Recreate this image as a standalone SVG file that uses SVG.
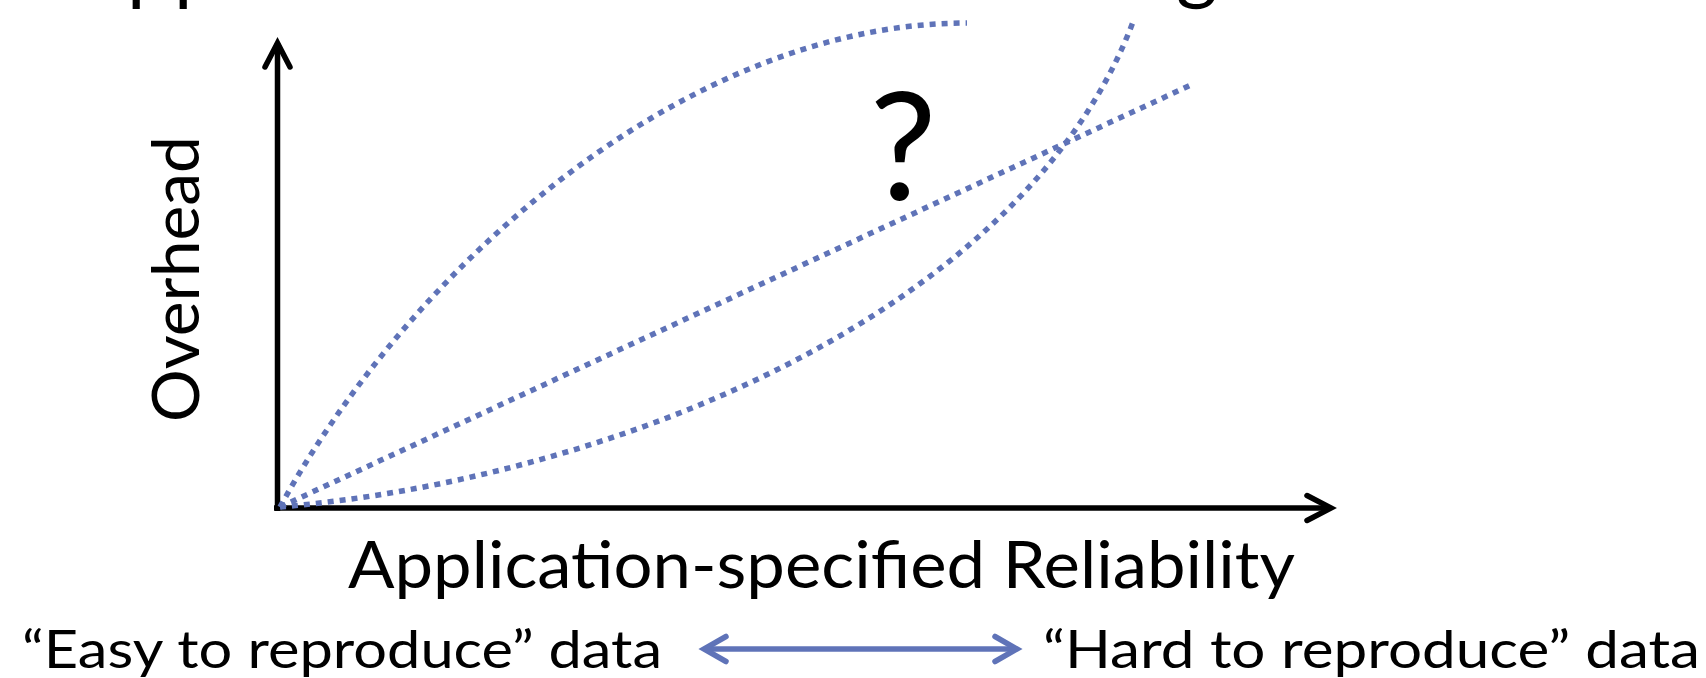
<svg xmlns="http://www.w3.org/2000/svg" width="1706" height="678" viewBox="0 0 1706 678">
<style>
text{font-family:Lato,"Open Sans","Liberation Sans",sans-serif;fill:#000}
.axis{fill:none;stroke:#000;stroke-width:5.5}
.curve{fill:none;stroke:#5f73b8;stroke-width:5.5;stroke-dasharray:6 6}
.dbl{fill:none;stroke:#5f73b8;stroke-width:5.5}
</style>
<defs>
<marker id="headBlack" markerUnits="userSpaceOnUse" viewBox="-30 -20 40 40" markerWidth="40" markerHeight="40" refX="0" refY="0" orient="auto" overflow="visible">
<path d="M-24,-12.5 L0,0 L-24,12.5" fill="none" stroke="#000" stroke-width="5.5" stroke-linecap="round" stroke-linejoin="miter"/>
</marker>
<marker id="headBlue" markerUnits="userSpaceOnUse" viewBox="-30 -20 40 40" markerWidth="40" markerHeight="40" refX="0" refY="0" orient="auto-start-reverse" overflow="visible">
<path d="M-22,-12.5 L0,0 L-22,12.5" fill="none" stroke="#5f73b8" stroke-width="5.5" stroke-linecap="round" stroke-linejoin="miter"/>
</marker>
</defs>
<rect width="1706" height="678" fill="#fff"/>
<g id="title-fragment">
<text x="127" y="-5" font-size="80">p</text>
<text x="174" y="-5" font-size="80">p</text>
<text x="1176" y="-6" font-size="80">g</text>
</g>
<g id="connectors">
<path class="axis" d="M277.5,511 L277.5,43" marker-end="url(#headBlack)"/>
<path class="axis" d="M274,508 L1331,508" marker-end="url(#headBlack)"/>
<path class="curve" d="M280,507 C415,260 690,23 967,23"/>
<path class="curve" d="M280,507 L1193,84"/>
<path class="curve" d="M280,507 C600,480 1020,320 1133,22"/>
<path class="dbl" d="M704,649 L1017,649" marker-start="url(#headBlue)" marker-end="url(#headBlue)"/>
</g>
<g id="y-label">
<text transform="translate(199,422) rotate(-90)" font-size="66" textLength="286" lengthAdjust="spacingAndGlyphs">Overhead</text>
</g>
<g id="x-label">
<text x="348" y="588" font-size="66" textLength="947" lengthAdjust="spacingAndGlyphs">Application-specified Reliability</text>
</g>
<g id="question">
<text x="903" y="200" font-size="150" text-anchor="middle">?</text>
</g>
<g id="easy-label">
<text x="22" y="668" font-size="52" textLength="640" lengthAdjust="spacingAndGlyphs">“Easy to reproduce” data</text>
</g>
<g id="hard-label">
<text x="1043" y="668" font-size="52" textLength="657" lengthAdjust="spacingAndGlyphs">“Hard to reproduce” data</text>
</g>
</svg>
